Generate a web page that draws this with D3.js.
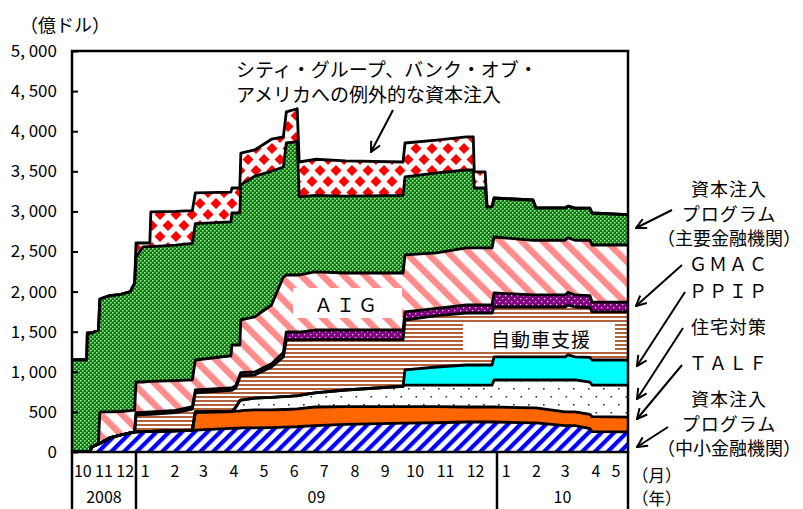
<!DOCTYPE html>
<html><head><meta charset="utf-8">
<script src="https://cdn.jsdelivr.net/npm/d3@7"></script>
<style>
body{margin:0;background:#fff;}
svg{display:block;}
text{font-family:"Noto Sans CJK JP","Noto Sans",sans-serif;fill:#000;}
</style>
</head><body><svg id="c" width="803" height="509"></svg>
<script>
// ---- data (億ドル) ----
const dates = ["2008-10-01","2008-10-22","2008-10-23","2008-10-27","2008-10-29","2008-11-08","2008-11-10","2008-11-24","2008-12-10","2008-12-24",
"2008-12-27","2008-12-30","2009-01-01","2009-01-08","2009-01-15","2009-01-16","2009-02-10","2009-02-27","2009-03-02","2009-04-07",
"2009-04-08","2009-04-12","2009-04-16","2009-04-17","2009-05-01","2009-05-18","2009-05-30","2009-06-02","2009-06-13","2009-06-15",
"2009-07-01","2009-08-01","2009-09-28","2009-09-30","2009-11-01","2009-12-01","2009-12-08","2009-12-09","2009-12-20","2009-12-22",
"2009-12-27","2009-12-29","2010-02-06","2010-02-09","2010-03-10","2010-03-13","2010-03-20","2010-04-04","2010-04-06","2010-05-12"];
const smallBanks = [0,0,0,0,62,100,105,175,212,240, 245,250,250,255,258,258,265,274,274,295, 295,297,297,300,300,305,310,310,315,318, 330,345,360,361,365,374,374,374,374,374, 374,374,362,362,330,330,330,290,255,250];
const talf = [0,0,0,0,0,0,0,0,0,0, 0,0,0,0,0,0,0,0,225,210, 210,213,213,215,224,221,220,220,222,222, 231,220,205,204,200,187,187,187,187,187, 187,187,188,188,170,170,170,180,185,186];
const housing = [0,0,0,0,0,0,0,0,0,0, 0,0,0,0,0,0,0,0,0,0, 0,50,130,133,149,154,160,160,165,165, 175,208,255,270,270,274,274,274,274,274, 274,337,348,348,398,398,398,400,395,399];
const ppip = [0,0,0,0,0,0,0,0,0,0, 0,0,0,0,0,0,0,0,0,0, 0,0,0,0,0,0,0,0,0,0, 0,0,0,188,225,250,250,250,250,250, 250,287,287,287,287,312,287,310,312,312];
const autoSupport = [0,0,0,0,0,0,0,0,0,0, 0,0,211,210,212,212,225,261,237,265, 265,240,290,302,287,380,495,707,695,692, 664,627,577,623,640,648,648,648,648,648, 648,623,623,623,623,620,623,620,599,599];
const gmac = [0,0,0,0,0,0,0,0,0,0, 0,0,29,30,30,30,30,30,37,30, 30,30,30,40,38,40,55,99,99,99, 121,121,124,100,90,100,100,100,100,100, 100,175,150,150,150,160,150,150,124,124];
const aig = [0,0,0,0,0,0,395,325,293,275, 275,270,383,378,380,380,370,335,374,400, 534,504,374,656,686,733,942,711,711,711, 724,711,711,711,692,711,711,711,711,711, 711,698,682,682,682,680,682,690,711,711];
const majorBanks = [1150,1150,1484,1484,1422,1420,1408,1450,1460,1485, 1538,1580,1559,1684,1680,1680,1690,1700,1701,1670, 1646,1646,1646,1684,1756,1667,1372,1646,1663,973, 955,958,968,973,998,972,972,748,748,511, 516,486,502,403,403,395,400,400,399,379];
const citiBofa = [0,0,0,0,0,0,0,0,0,0, 0,0,174,49,46,433,420,410,382,370, 312,312,312,398,326,400,376,387,410,436, 450,440,416,423,410,412,412,200,200,0, 0,0,0,0,0,0,0,0,0,0];

const yTicks = [0,500,1000,1500,2000,2500,3000,3500,4000,4500,5000];
const monthLabels = ["10","11","12","1","2","3","4","5","6","7","8","9","10","11","12","1","2","3","4","5"];
const monthStarts = ["2008-10-01","2008-11-01","2008-12-01","2009-01-01","2009-02-01","2009-03-01","2009-04-01","2009-05-01","2009-06-01","2009-07-01",
"2009-08-01","2009-09-01","2009-10-01","2009-11-01","2009-12-01","2010-01-01","2010-02-01","2010-03-01","2010-04-01","2010-05-01"];
const yearLabels = ["2008","09","10"];
const yearStarts = ["2008-10-01","2009-01-01","2010-01-01"];

// ---- layout ----
const L = 72, R = 628, T = 51, B = 452, BOT = 509;
const parse = d3.timeParse("%Y-%m-%d");
const domainEnd = parse("2010-05-12");
const x = d3.scaleTime()
  .domain([parse("2008-10-01"), parse("2009-01-01"), parse("2010-01-01"), domainEnd])
  .range([L, 136, 497, R]);
const y = d3.scaleLinear().domain([0, 5000]).range([B, T]);

const svg = d3.select("#c");
const defs = svg.append("defs");
function pat(id, w, h, bg, tr) {
  const p = defs.append("pattern").attr("id", id).attr("patternUnits", "userSpaceOnUse")
    .attr("width", w).attr("height", h);
  if (tr) p.attr("patternTransform", tr);
  p.append("rect").attr("width", w).attr("height", h).attr("fill", bg);
  return p;
}
pat("pSmall", 9, 9, "#fff", "rotate(45)").append("rect").attr("width", 4.2).attr("height", 9).attr("fill", "#0000ff");
pat("pTalf", 4, 4, "#ff6600");
const ph = pat("pHouse", 15, 16, "#fff");
ph.append("rect").attr("x", 3).attr("y", 4).attr("width", 1.6).attr("height", 1.6).attr("fill", "#333");
ph.append("rect").attr("x", 10.5).attr("y", 12).attr("width", 1.6).attr("height", 1.6).attr("fill", "#333");
pat("pPpip", 4, 4, "#00ffff");
pat("pAuto", 4, 4, "#fff").append("rect").attr("width", 4).attr("height", 2).attr("fill", "#b0603a");
const pg = pat("pGmac", 6, 6, "#800080");
pg.append("rect").attr("x", 1).attr("y", 1).attr("width", 1.3).attr("height", 1.3).attr("fill", "#f0d0f0");
pg.append("rect").attr("x", 4).attr("y", 4).attr("width", 1.3).attr("height", 1.3).attr("fill", "#f0d0f0");
pat("pAig", 15, 15, "#fff", "rotate(-45)").append("rect").attr("width", 6.5).attr("height", 15).attr("fill", "#ff8c8c");
const pm = pat("pMajor", 4, 4, "#008000");
pm.append("rect").attr("x", 0).attr("y", 0).attr("width", 1.5).attr("height", 1.5).attr("fill", "#b8e4b8");
pm.append("rect").attr("x", 2).attr("y", 2).attr("width", 1.5).attr("height", 1.5).attr("fill", "#b8e4b8");
const pc = pat("pCiti", 16, 22, "#fff");
[[8,5.5],[0,16.5],[16,16.5]].forEach(([cx,cy]) => {
  pc.append("path").attr("d", `M${cx-5.5},${cy}L${cx},${cy-5.5}L${cx+5.5},${cy}L${cx},${cy+5.5}Z`).attr("fill", "#ff0000");
});

const clip = defs.append("clipPath").attr("id", "plotClip");
clip.append("rect").attr("x", L).attr("y", T).attr("width", R - L).attr("height", B - T);

// ---- stack ----
const keys = ["small","talf","house","ppip","auto","gmac","aig","major","citi"];
const fills = {small:"pSmall",talf:"pTalf",house:"pHouse",ppip:"pPpip",auto:"pAuto",gmac:"pGmac",aig:"pAig",major:"pMajor",citi:"pCiti"};
const rows = dates.map((d, i) => ({
  date: parse(d), small: smallBanks[i], talf: talf[i], house: housing[i], ppip: ppip[i],
  auto: autoSupport[i], gmac: gmac[i], aig: aig[i], major: majorBanks[i], citi: citiBofa[i]
}));
rows.push(Object.assign({}, rows[rows.length - 1], {date: domainEnd}));
const stacked = d3.stack().keys(keys)(rows);

const g = svg.append("g").attr("clip-path", "url(#plotClip)");
const area = d3.area().x(d => x(d.data.date)).y0(d => y(d[0])).y1(d => y(d[1]));
const line = d3.line().x(d => x(d.data.date)).y(d => y(d[1]));
g.selectAll("path.area").data(stacked).join("path").attr("class", "area")
  .attr("d", area).attr("fill", s => `url(#${fills[s.key]})`);
g.selectAll("path.top").data(stacked).join("path").attr("class", "top")
  .attr("d", line).attr("fill", "none").attr("stroke", "#000").attr("stroke-width", 2.8)
  .attr("stroke-linejoin", "round");

// ---- in-chart labels ----
g.append("rect").attr("x", 293).attr("y", 288).attr("width", 109).attr("height", 30).attr("fill", "#fff");
svg.append("text").attr("x", 347).attr("y", 303).attr("text-anchor", "middle").attr("dominant-baseline", "central")
  .attr("font-size", 19).attr("letter-spacing", 3).text("ＡＩＧ");
g.append("rect").attr("x", 463).attr("y", 323).attr("width", 152).attr("height", 29).attr("fill", "#fff");
svg.append("text").attr("x", 541).attr("y", 338).attr("text-anchor", "middle").attr("dominant-baseline", "central")
  .attr("font-size", 19).attr("letter-spacing", 1).text("自動車支援");

// ---- axes ----
const yAxis = d3.axisLeft(y).tickValues(yTicks).tickSize(-6).tickPadding(15)
  .tickFormat(d => d3.format(",")(d).replace(",", ", "));
const ya = svg.append("g").attr("transform", `translate(${L},0)`).call(yAxis);
ya.select(".domain").remove();
ya.selectAll(".tick line").attr("stroke", "#000").attr("stroke-width", 2);
ya.selectAll(".tick text").attr("font-size", 17).attr("font-family", '"Noto Sans CJK JP",sans-serif').attr("fill", "#000");

svg.append("rect").attr("x", L).attr("y", T).attr("width", R - L).attr("height", B - T)
  .attr("fill", "none").attr("stroke", "#000").attr("stroke-width", 2.5);
[L, R].concat(yearStarts.slice(1).map(d => x(parse(d)))).forEach(xx => {
  svg.append("line").attr("x1", xx).attr("x2", xx).attr("y1", B).attr("y2", BOT)
    .attr("stroke", "#000").attr("stroke-width", 2.5);
});

const mStarts = monthStarts.map(parse);
monthLabels.forEach((lab, i) => {
  const s = mStarts[i];
  const e = i + 1 < mStarts.length ? mStarts[i + 1] : domainEnd;
  const x0 = x(s), x1 = x(e);
  let xp = s.getFullYear() === 2008 ? (x0 + x1) / 2 : x0 + 0.3 * (x1 - x0);
  if (i === monthLabels.length - 1) xp = Math.min(x0 + 0.3 * (x(new Date(2010,5,1)) - x0), R - 12);
  svg.append("text").attr("x", xp).attr("y", 470).attr("text-anchor", "middle")
    .attr("dominant-baseline", "central").attr("font-size", 16).text(lab);
});
const yStarts = yearStarts.map(parse);
yearLabels.forEach((lab, i) => {
  const x0 = x(yStarts[i]);
  const x1 = i + 1 < yStarts.length ? x(yStarts[i + 1]) : R;
  svg.append("text").attr("x", (x0 + x1) / 2).attr("y", 496).attr("text-anchor", "middle")
    .attr("dominant-baseline", "central").attr("font-size", 16).text(lab);
});

svg.append("text").attr("x", 20).attr("y", 24).attr("dominant-baseline", "central").attr("font-size", 18).text("（億ドル）");
svg.append("text").attr("x", 632).attr("y", 475).attr("dominant-baseline", "central").attr("font-size", 16.5).text("（月）");
svg.append("text").attr("x", 632).attr("y", 498).attr("dominant-baseline", "central").attr("font-size", 16.5).text("（年）");

// ---- annotations ----
svg.append("text").attr("x", 236).attr("y", 68).attr("dominant-baseline", "central").attr("font-size", 19).text("シティ・グループ、バンク・オブ・");
svg.append("text").attr("x", 236).attr("y", 93).attr("dominant-baseline", "central").attr("font-size", 19).text("アメリカへの例外的な資本注入");

const legend = [
  {lines:["資本注入","プログラム","（主要金融機関）"], ys:[188,213,237]},
  {lines:["ＧＭＡＣ"], ys:[263]},
  {lines:["ＰＰＩＰ"], ys:[290]},
  {lines:["住宅対策"], ys:[326]},
  {lines:["ＴＡＬＦ"], ys:[362]},
  {lines:["資本注入","プログラム","（中小金融機関）"], ys:[398,423,447]}
];
legend.forEach(l => l.lines.forEach((t, i) => {
  svg.append("text").attr("x", 729).attr("y", l.ys[i]).attr("text-anchor", "middle")
    .attr("dominant-baseline", "central").attr("font-size", 18)
    .attr("letter-spacing", /^[Ａ-Ｚ]+$/.test(t) ? 2 : (t.length <= 5 ? 1 : 0)).text(t);
}));

defs.append("marker").attr("id", "arr").attr("viewBox", "0 0 12 12").attr("refX", 11).attr("refY", 6)
  .attr("markerWidth", 12).attr("markerHeight", 12).attr("markerUnits", "userSpaceOnUse").attr("orient", "auto")
  .append("path").attr("d", "M1,1L11,6L1,11").attr("fill", "none").attr("stroke", "#000").attr("stroke-width", 2);
const arrows = [
  [393,110,371,152],
  [672,210,636,228],
  [682,265,636,306],
  [685,292,637,366],
  [683,328,637,399],
  [682,365,637,419],
  [668,427,637,447]
];
arrows.forEach(([x1,y1,x2,y2]) => {
  svg.append("line").attr("x1", x1).attr("y1", y1).attr("x2", x2).attr("y2", y2)
    .attr("stroke", "#000").attr("stroke-width", 2).attr("marker-end", "url(#arr)");
});
</script>
</body></html>
